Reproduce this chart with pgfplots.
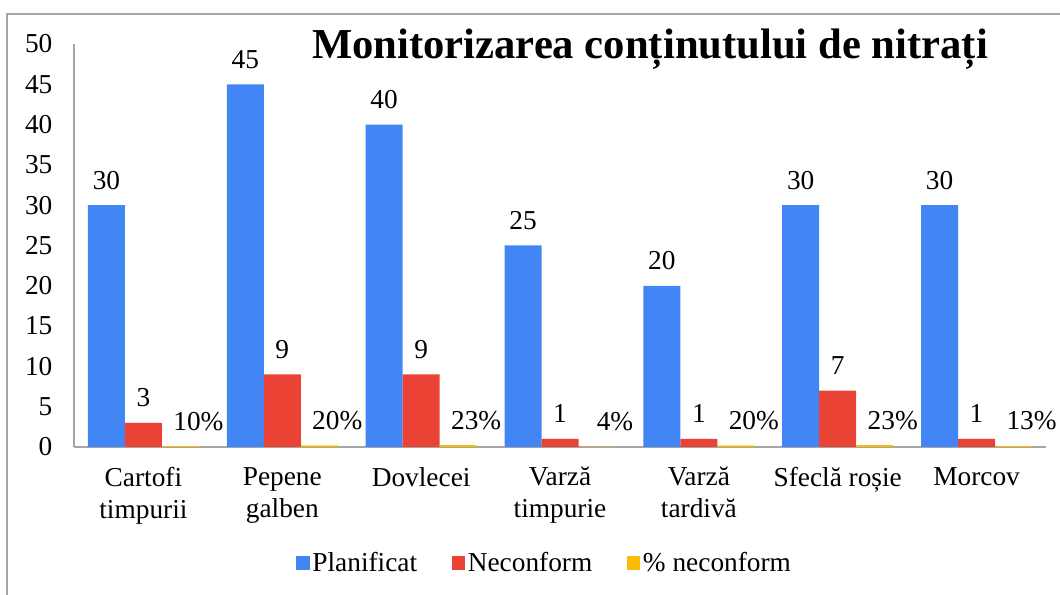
\documentclass[border=0pt]{standalone}
\usepackage{pgfplots}
\pgfplotsset{compat=1.18}
\usepackage{fontspec}
\setmainfont{Liberation Serif}
\definecolor{cblue}{HTML}{4285F4}
\definecolor{cred}{HTML}{EA4335}
\definecolor{cyel}{HTML}{FBBC04}
\begin{document}
\begin{tikzpicture}[x=1pt,y=1pt]
\useasboundingbox (0,0) rectangle (795,446.25);
\draw[gray!70, line width=1pt] (5.25,-2) -- (5.25,435.75) -- (797,435.75);
\begin{axis}[
  at={(55.5pt,111pt)}, anchor=south west,
  scale only axis, width=729pt, height=302.25pt,
  ybar=0pt, bar width=27.75pt,
  xmin=-0.5, xmax=6.5, ymin=0, ymax=50,
  ytick={0,5,...,50},
  xtick={0,...,6},
  xticklabels={{Cartofi\\timpurii},{Pepene\\galben},{Dovlecei},{Varză\\timpurie},{Varză\\tardivă},{Sfeclă roșie},{Morcov}},
  axis x line*=bottom, axis y line*=left,
  axis line style={gray!70, line width=0.9pt},
  major tick length=0pt,
  tick style={draw=none},
  /pgf/number format/assume math mode=true,
  ticklabel style={font=\fontsize{20.5}{24}\selectfont},
  yticklabel style={anchor=east, inner sep=0pt, xshift=-16pt},
  xticklabel style={anchor=north, align=center, inner sep=0pt, yshift=-15pt},
  nodes near coords,
  every node near coord/.append style={font=\fontsize{20.5}{24}\selectfont, anchor=center, yshift=18.75pt},
  legend style={at={(0.4846,-0.288)}, anchor=center, draw=none, legend columns=-1,
    font=\fontsize{20.5}{24}\selectfont,
    /tikz/every even column/.append style={column sep=24pt},
    nodes={inner sep=2pt}},
  legend image code/.code={\fill[#1] (0pt,-5pt) rectangle (10pt,5pt);},
]
\addplot[fill=cblue, draw=none] coordinates {(0,30) (1,45) (2,40) (3,25) (4,20) (5,30) (6,30)};
\addplot[fill=cred, draw=none] coordinates {(0,3) (1,9) (2,9) (3,1) (4,1) (5,7) (6,1)};
\addplot[fill=cyel, draw=none, point meta=explicit symbolic,
  every node near coord/.append style={xshift=13.5pt}] coordinates {(0,0.10) [10\%] (1,0.20) [20\%] (2,0.23) [23\%] (3,0.04) [4\%] (4,0.20) [20\%] (5,0.23) [23\%] (6,0.13) [13\%]};
\legend{Planificat, Neconform, \% neconform}
\end{axis}
\node[font=\fontsize{32}{38}\selectfont\bfseries, anchor=base] at (487.5,402) {Monitorizarea conținutului de nitrați};
\end{tikzpicture}
\end{document}
